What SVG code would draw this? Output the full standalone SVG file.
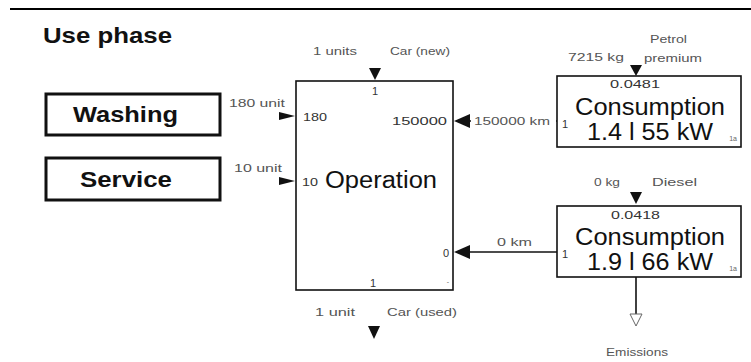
<svg xmlns="http://www.w3.org/2000/svg" width="751" height="362" viewBox="0 0 751 362">
<style>
text{font-family:"Liberation Sans",Arial,sans-serif}
.lbl{font-size:11px;fill:#555}
.num{font-size:11px;fill:#333}
.big{font-size:23px;fill:#111}
.bold{font-weight:bold;fill:#111}
.tiny{font-size:7px;fill:#666}
.box{fill:#fff;stroke:#111;stroke-width:1.6}
.thick{fill:#fff;stroke:#111;stroke-width:3}
.line{stroke:#111;stroke-width:1.6;fill:none}
.head{fill:#111}
</style>
<rect width="751" height="362" fill="#fff"/>
<path d="M10 9 H751" stroke="#000" stroke-width="2.2" fill="none"/>
<text x="43" y="43" class="bold" font-size="22" textLength="129" lengthAdjust="spacingAndGlyphs">Use phase</text>

<g id="connectors">
  <polygon class="head" points="369,68 381,68 375,80"/>
  <polygon class="head" points="279,112 279,120 295,116"/>
  <polygon class="head" points="279,177 279,185 295,181"/>
  <line class="line" x1="470" y1="121" x2="557" y2="121"/>
  <rect x="471" y="112" width="85" height="17" fill="#fff"/>
  <polygon class="head" points="470,114 470,128 454,121"/>
  <polygon class="head" points="630,65 642,65 636,76"/>
  <polygon class="head" points="630,192 642,192 636,204"/>
  <line class="line" x1="470" y1="252" x2="557" y2="252"/>
  <polygon class="head" points="470,245 470,259 454,252"/>
  <polygon class="head" points="368,326 380,326 374,339"/>
  <line class="line" x1="636" y1="277" x2="636" y2="314"/>
  <polygon points="630,314 642,314 636,326" fill="#fff" stroke="#666" stroke-width="1"/>
  <text x="313" y="55" class="lbl" textLength="44" lengthAdjust="spacingAndGlyphs">1 units</text>
  <text x="390" y="55" class="lbl" textLength="60" lengthAdjust="spacingAndGlyphs">Car (new)</text>
  <text x="568" y="61" class="lbl" textLength="56" lengthAdjust="spacingAndGlyphs">7215 kg</text>
  <text x="650" y="43" class="lbl" textLength="37" lengthAdjust="spacingAndGlyphs">Petrol</text>
  <text x="644" y="62" class="lbl" textLength="58" lengthAdjust="spacingAndGlyphs">premium</text>
  <text x="229" y="107" class="lbl" textLength="56" lengthAdjust="spacingAndGlyphs">180 unit</text>
  <text x="234" y="172" class="lbl" textLength="48" lengthAdjust="spacingAndGlyphs">10 unit</text>
  <text x="474" y="125" class="lbl" textLength="76" lengthAdjust="spacingAndGlyphs">150000 km</text>
  <text x="594" y="186" class="lbl" textLength="26" lengthAdjust="spacingAndGlyphs">0 kg</text>
  <text x="652" y="186" class="lbl" textLength="45" lengthAdjust="spacingAndGlyphs">Diesel</text>
  <text x="497" y="246" class="lbl" textLength="35" lengthAdjust="spacingAndGlyphs">0 km</text>
  <text x="315" y="316" class="lbl" textLength="40" lengthAdjust="spacingAndGlyphs">1 unit</text>
  <text x="387" y="316" class="lbl" textLength="70" lengthAdjust="spacingAndGlyphs">Car (used)</text>
  <text x="606" y="356" class="lbl" textLength="62" lengthAdjust="spacingAndGlyphs">Emissions</text>
</g>

<g id="washing">
  <rect class="thick" x="46" y="94" width="174" height="41"/>
  <text x="73" y="122" class="bold" font-size="22" textLength="105" lengthAdjust="spacingAndGlyphs">Washing</text>
</g>
<g id="service">
  <rect class="thick" x="46" y="158" width="174" height="42"/>
  <text x="80" y="187" class="bold" font-size="22" textLength="92" lengthAdjust="spacingAndGlyphs">Service</text>
</g>

<g id="operation">
  <rect class="box" x="296" y="81" width="157" height="209"/>
  <text x="375" y="95" class="num" font-size="13" text-anchor="middle">1</text>
  <text x="303" y="121" class="num" textLength="24" lengthAdjust="spacingAndGlyphs">180</text>
  <text x="392" y="125" class="num" textLength="55" lengthAdjust="spacingAndGlyphs">150000</text>
  <text x="302" y="186" class="num" font-size="10" textLength="16" lengthAdjust="spacingAndGlyphs">10</text>
  <text x="325" y="188" class="big" font-size="25" textLength="112" lengthAdjust="spacingAndGlyphs">Operation</text>
  <text x="449" y="257" class="num" text-anchor="end">0</text>
  <text x="373" y="287" class="num" font-size="13" text-anchor="middle">1</text>
  <text x="449" y="284" class="tiny" text-anchor="end">-</text>
</g>

<g id="consumption-petrol">
  <rect class="box" x="557" y="76" width="184" height="71"/>
  <text x="610" y="88" class="num" textLength="50" lengthAdjust="spacingAndGlyphs">0.0481</text>
  <text x="575" y="115" class="big" textLength="150" lengthAdjust="spacingAndGlyphs">Consumption</text>
  <text x="587" y="140" class="big" textLength="126" lengthAdjust="spacingAndGlyphs">1.4 l 55 kW</text>
  <text x="562" y="128" class="num" font-size="10">1</text>
  <text x="737" y="141" class="tiny" text-anchor="end">1a</text>
</g>

<g id="consumption-diesel">
  <rect class="box" x="557" y="206" width="184" height="71"/>
  <text x="611" y="219" class="num" textLength="49" lengthAdjust="spacingAndGlyphs">0.0418</text>
  <text x="575" y="245" class="big" textLength="150" lengthAdjust="spacingAndGlyphs">Consumption</text>
  <text x="587" y="270" class="big" textLength="126" lengthAdjust="spacingAndGlyphs">1.9 l 66 kW</text>
  <text x="562" y="258" class="num" font-size="10">1</text>
  <text x="737" y="271" class="tiny" text-anchor="end">1a</text>
</g>
</svg>
